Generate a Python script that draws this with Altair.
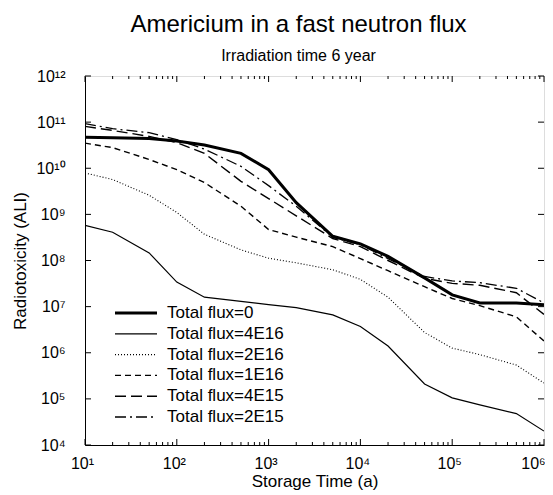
import altair as alt
import pandas as pd

FONT = "Liberation Sans"

# ---- data ----
times = [10, 20, 50, 100, 200, 500, 1000, 2000, 5000, 1e4, 2e4, 5e4, 1e5, 2e5, 5e5, 1e6]

flux_0    = [4.7e10, 4.6e10, 4.4e10, 3.9e10, 3.2e10, 2.1e10, 9.3e9, 1.8e9, 3.35e8, 2.3e8, 1.23e8, 4.2e7, 1.8e7, 1.2e7, 1.2e7, 1.1e7]
flux_4e16 = [5.8e8, 4.1e8, 1.46e8, 3.4e7, 1.6e7, 1.3e7, 1.1e7, 9.5e6, 6.6e6, 3.7e6, 1.4e6, 2.1e5, 1.05e5, 7.4e4, 4.8e4, 2.0e4]
flux_2e16 = [7.9e9, 5.7e9, 2.6e9, 1.1e9, 3.7e8, 1.7e8, 1.12e8, 8.9e7, 6.3e7, 3.9e7, 1.6e7, 2.75e6, 1.26e6, 9.1e5, 5.4e5, 2.2e5]
flux_1e16 = [3.5e10, 2.8e10, 1.55e10, 9.3e9, 4.9e9, 1.5e9, 4.7e8, 3.2e8, 2.0e8, 1.1e8, 6.0e7, 2.7e7, 1.5e7, 1.05e7, 6.0e6, 1.8e6]
flux_4e15 = [8.1e10, 6.6e10, 4.9e10, 3.6e10, 2.1e10, 5.2e9, 2.2e9, 9.3e8, 3.0e8, 2.0e8, 1.0e8, 4.1e7, 3.2e7, 2.9e7, 2.0e7, 6.8e6]
flux_2e15 = [9.3e10, 7.2e10, 5.9e10, 4.2e10, 2.6e10, 1.1e10, 4.2e9, 1.5e9, 3.2e8, 2.2e8, 1.1e8, 4.5e7, 3.6e7, 3.3e7, 2.5e7, 1.2e7]

series_names = ["Total flux=0", "Total flux=4E16", "Total flux=2E16",
                "Total flux=1E16", "Total flux=4E15", "Total flux=2E15"]
series_values = [flux_0, flux_4e16, flux_2e16, flux_1e16, flux_4e15, flux_2e15]

x_major = [10, 100, 1000, 10000, 100000, 1000000]
x_minor = [m * 10 ** d for d in range(1, 6) for m in range(2, 10)]
y_major = [1e4, 1e5, 1e6, 1e7, 1e8, 1e9, 1e10, 1e11, 1e12]

# ---- styles ----
styles = {
    "Total flux=0":    dict(strokeWidth=3.0),
    "Total flux=4E16": dict(strokeWidth=1.2),
    "Total flux=2E16": dict(strokeWidth=1.1, strokeDash=[1, 2]),
    "Total flux=1E16": dict(strokeWidth=1.4, strokeDash=[6, 4]),
    "Total flux=4E15": dict(strokeWidth=1.4, strokeDash=[11, 5]),
    "Total flux=2E15": dict(strokeWidth=1.3, strokeDash=[11, 4, 2, 4]),
}

W, H = 459, 369

rows = []
for name, vals in zip(series_names, series_values):
    for t, v in zip(times, vals):
        rows.append({"time": t, "value": v, "series": name})
df = pd.DataFrame(rows)

SUP = "⁰¹²³⁴⁵⁶⁷⁸⁹"
label_expr = (
    "'10' + (round(log(datum.value)/LN10) >= 10 ? substring('" + SUP + "', floor(round(log(datum.value)/LN10)/10), floor(round(log(datum.value)/LN10)/10)+1) : '')"
    " + substring('" + SUP + "', round(log(datum.value)/LN10) % 10, round(log(datum.value)/LN10) % 10 + 1)"
)

xs = alt.Scale(type="log", domain=[10, 1e6], nice=False)
ys = alt.Scale(type="log", domain=[1e4, 1e12], nice=False)

xaxis = alt.Axis(values=x_major, labelExpr=label_expr, ticks=False, grid=False,
                 title="Storage Time (a)", labelFontSize=16, titleFontSize=17,
                 titleFontWeight="normal", labelPadding=10, titlePadding=2,
                 labelColor="black", titleColor="black", domainColor="black",
                 labelFlush=False, labelOverlap=False,
                 labelOffset={"condition": {"test": "datum.value >= 1000000", "value": -11}, "value": -3})
yaxis = alt.Axis(values=y_major, labelExpr=label_expr, ticks=False, grid=False,
                 title="Radiotoxicity (ALI)", labelFontSize=16, titleFontSize=17,
                 titleFontWeight="normal", labelPadding=20, titlePadding=6,
                 labelColor="black", titleColor="black", domainColor="black",
                 labelFlush=False, labelOverlap=False)

X = alt.X("time:Q", scale=xs, axis=xaxis)
Y = alt.Y("value:Q", scale=ys, axis=yaxis)

layers = []
for name in series_names:
    layers.append(
        alt.Chart(df[df.series == name]).mark_line(color="black", clip=True, **styles[name])
        .encode(x=X, y=Y, order="time:Q")
    )

# inward ticks on all four sides
df_xmaj = pd.DataFrame({"time": x_major})
df_xmin = pd.DataFrame({"time": x_minor})
df_ymaj = pd.DataFrame({"value": y_major})
tick_style = dict(color="black", strokeWidth=1)
layers += [
    alt.Chart(df_xmaj).mark_rule(**tick_style).encode(x=X, y=alt.value(H), y2=alt.value(H - 6)),
    alt.Chart(df_xmaj).mark_rule(**tick_style).encode(x=X, y=alt.value(0), y2=alt.value(6)),
    alt.Chart(df_xmin).mark_rule(**tick_style).encode(x=X, y=alt.value(H), y2=alt.value(H - 3)),
    alt.Chart(df_xmin).mark_rule(**tick_style).encode(x=X, y=alt.value(0), y2=alt.value(3)),
    alt.Chart(df_ymaj).mark_rule(**tick_style).encode(y=Y, x=alt.value(0), x2=alt.value(6)),
    alt.Chart(df_ymaj).mark_rule(**tick_style).encode(y=Y, x=alt.value(W), x2=alt.value(W - 6)),
]

# legend drawn inside the plot
LEG_Y0, LEG_STEP = 237, 20.8
for i, name in enumerate(series_names):
    ly = LEG_Y0 + i * LEG_STEP
    ldf = pd.DataFrame({"label": [name]})
    layers.append(
        alt.Chart(ldf).mark_rule(color="black", **styles[name])
        .encode(x=alt.value(30), x2=alt.value(72), y=alt.value(ly))
    )
    layers.append(
        alt.Chart(ldf).mark_text(align="left", baseline="middle", fontSize=17, font=FONT, color="black")
        .encode(x=alt.value(82), y=alt.value(ly), text="label:N")
    )

chart = alt.layer(*layers).properties(
    width=W, height=H,
    title=alt.Title("Americium in a fast neutron flux", subtitle="Irradiation time 6 year",
                    fontSize=24, subtitleFontSize=16, fontWeight="normal",
                    font=FONT, subtitleFont=FONT, color="black", subtitleColor="black",
                    anchor="middle", offset=4, subtitlePadding=11, dx=-16),
    autosize=alt.AutoSizeParams(type="none"),
    padding={"left": 77, "top": 68, "right": 1, "bottom": 49},
    background="white",
).configure_view(stroke="black", strokeWidth=1).configure(font=FONT)

chart.save("out.html", embed_options={"renderer": "svg", "actions": False})
